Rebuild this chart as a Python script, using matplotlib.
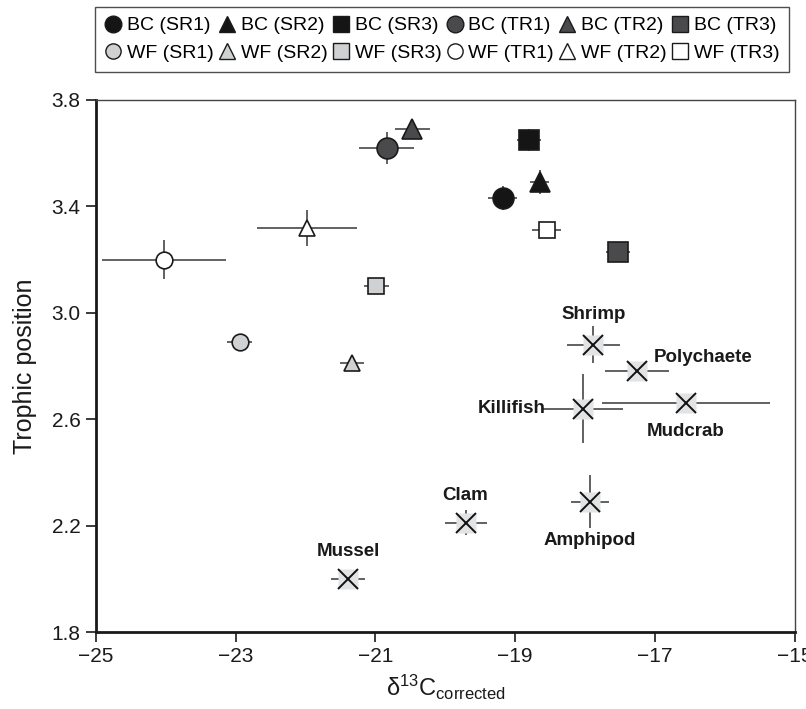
import numpy as np
import matplotlib
matplotlib.use('Agg')
import matplotlib.pyplot as plt
from matplotlib.lines import Line2D

plt.rcParams['font.family'] = ['Liberation Sans', 'DejaVu Sans']
plt.rcParams['mathtext.fontset'] = 'custom'
plt.rcParams['mathtext.rm'] = 'Liberation Sans'
plt.rcParams['mathtext.it'] = 'Liberation Sans'

# Consumer groups (site, region)
groups = ['BC (SR1)', 'BC (SR2)', 'BC (SR3)', 'BC (TR1)', 'BC (TR2)', 'BC (TR3)',
          'WF (SR1)', 'WF (SR2)', 'WF (SR3)', 'WF (TR1)', 'WF (TR2)', 'WF (TR3)']
d13c = [-19.18, -18.65, -18.80, -20.84, -20.47, -17.53,
        -22.94, -21.34, -20.99, -24.03, -21.98, -18.55]
d13c_err = [0.21, 0.14, 0.17, 0.39, 0.25, 0.17,
            0.18, 0.17, 0.18, 0.89, 0.71, 0.21]
tp = [3.43, 3.49, 3.65, 3.62, 3.69, 3.23,
      2.89, 2.81, 3.10, 3.20, 3.32, 3.31]
tp_err = [0.045, 0.045, 0.04, 0.06, 0.02, 0.02,
          0.0, 0.0, 0.0, 0.073, 0.068, 0.0]

# Prey items
prey = ['Shrimp', 'Polychaete', 'Killifish', 'Mudcrab', 'Clam', 'Amphipod', 'Mussel']
prey_c = [-17.88, -17.26, -18.03, -16.56, -19.71, -17.93, -21.39]
prey_c_err = [0.38, 0.46, 0.57, 1.20, 0.30, 0.27, 0.24]
prey_tp = [2.88, 2.78, 2.64, 2.66, 2.21, 2.29, 2.00]
prey_tp_err = [0.07, 0.0, 0.13, 0.0, 0.047, 0.10, 0.0]

# styles
markers = ['o', '^', 's'] * 4
fills = ['#151515'] * 3 + ['#4a4a4d'] * 3 + ['#d0d1d3'] * 3 + ['white'] * 3
sizes = [15] * 6 + [12] * 6
label_pos = {'Shrimp': (0, 22, 'center'), 'Polychaete': (12, 10, 'left'),
             'Killifish': (-27, 0, 'right'), 'Mudcrab': (0, -20, 'center'),
             'Clam': (0, 20, 'center'), 'Amphipod': (0, -28, 'center'),
             'Mussel': (0, 20, 'center')}

fig = plt.figure(figsize=(8.06, 7.09), dpi=100)
ax = fig.add_axes([0.119, 0.1086, 0.867, 0.7504])

err_kw = dict(fmt='none', ecolor='#555555', elinewidth=1.3, capsize=0, zorder=2)

ax.errorbar(prey_c, prey_tp, xerr=prey_c_err, yerr=prey_tp_err, **err_kw)
ax.plot(prey_c, prey_tp, 's', ms=14, mfc='#e2e3e4', mec='none', zorder=3)
ax.plot(prey_c, prey_tp, 'x', ms=15, mec='#111111', mew=1.4, zorder=4)
for name, x, y in zip(prey, prey_c, prey_tp):
    dx, dy, ha = label_pos[name]
    ax.annotate(name, (x, y), xytext=(dx, dy), textcoords='offset points',
                ha=ha, va='center', fontsize=13.5, fontweight='bold', color='#1a1a1a')

handles = []
for i, g in enumerate(groups):
    ax.errorbar(d13c[i], tp[i], xerr=d13c_err[i], yerr=tp_err[i], **err_kw)
    ax.plot(d13c[i], tp[i], markers[i], ms=sizes[i], mfc=fills[i], mec='#1a1a1a',
            mew=1.2, zorder=5)
    handles.append(Line2D([], [], ls='none', marker=markers[i], ms=12 if i < 6 else 11,
                          mfc=fills[i], mec='#1a1a1a', mew=1.0, label=g))

# legend columns are filled top-down, so pair BC with WF
order = [0, 6, 1, 7, 2, 8, 3, 9, 4, 10, 5, 11]
leg = fig.legend([handles[i] for i in order], [groups[i] for i in order],
                 ncol=6, loc='upper center', bbox_to_anchor=(442 / 806, 1 - 7 / 709),
                 frameon=True, fancybox=False, edgecolor='#222222', fontsize=14,
                 handlelength=0.9, handletextpad=0.25, columnspacing=0.24,
                 borderpad=0.5, borderaxespad=0, labelspacing=0.52)
leg.get_frame().set_linewidth(1.0)

ax.set_xlim(-25, -15)
ax.set_ylim(1.8, 3.8)
ax.set_xticks(np.arange(-25, -14, 2))
ax.set_yticks(np.arange(1.8, 3.81, 0.4))
ax.set_yticklabels([f'{v:.1f}' for v in np.arange(1.8, 3.81, 0.4)])
ax.tick_params(direction='out', length=7, width=1.2, labelsize=15, colors='#1a1a1a', pad=4)

for s in ['left', 'bottom']:
    ax.spines[s].set_linewidth(2.0)
    ax.spines[s].set_color('#1a1a1a')
for s in ['top', 'right']:
    ax.spines[s].set_linewidth(1.0)
    ax.spines[s].set_color('#444444')

ax.set_ylabel('Trophic position', fontsize=18, color='#1a1a1a')
ax.yaxis.set_label_coords(-0.085, 0.5)
ax.set_xlabel(r'$\mathregular{\delta^{13}C_{corrected}}$', fontsize=17, color='#1a1a1a', labelpad=5)

fig.savefig('out.png', dpi=100)
